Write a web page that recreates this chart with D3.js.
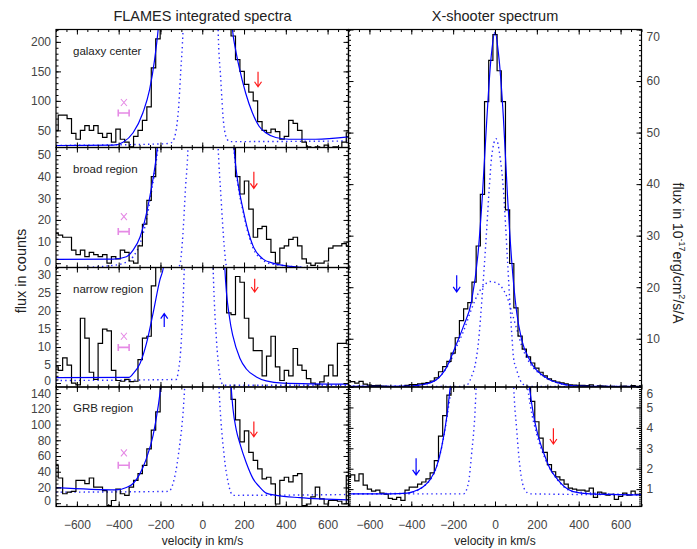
<!DOCTYPE html>
<html><head><meta charset="utf-8">
<script src="https://cdn.jsdelivr.net/npm/d3@7"></script>
<style>body{margin:0;background:#fff}svg{display:block}</style>
</head><body><div id="chart"></div>
<script>
// ---------------- DATA ----------------
// FLAMES spectra: 67 equally spaced velocity bins from -700 to 700 km/s
const flamesVelocity = d3.range(67).map(i => -700 + i * 1400 / 66);
const galaxyCenterFlux = [50,76,76,70,45,35,50,58,50,58,45,38,45,30,52,35,30,22,40,50,67,90,156,205,300,500,800,1200,1600,2000,2400,2600,2700,2700,2600,2400,2000,1500,1000,500,210,170,150,128,115,100,65,50,46,52,48,35,40,67,62,50,30,22,15,22,18,25,20,22,20,30,46];
const broadRegionFlux = [14,13,12,12,6,4,6,3,5,4,3,4,0,3,2,6,5,1,0,8,18,29,40,55,80,120,160,220,300,380,450,500,520,520,500,450,380,300,200,120,55,40,32,38,25,12,16,17,11,5,0,7,8,11,12,8,2,0,-1,0,0,1,7,8,8,9,8];
const narrowRegionFlux = [4.5,3.5,7,5,0,-0.5,18,12.5,3,1,11,15,14.5,3.5,0.7,0.5,1,0.4,0.5,6.5,12.5,13,27,33,60,100,150,200,250,300,320,330,330,320,300,250,200,120,50,19.5,19,29.6,28,18,12.5,9,9,2,7.5,13,4.5,0.7,3.5,2,9.6,5,3.5,1.2,0,-0.5,0.3,2,5,2,11,11,12];
const grbRegionFlux = [48,32,12,14,15,29,29,25,32,20.5,20.5,16,-3,3.4,18,12,10,20.5,29,37.6,48,69,93,116,170,250,350,500,650,800,900,950,950,900,800,650,500,350,250,180,132,106,78,92,64.7,54.4,43.7,31,33,24.6,-1,29,33,27,35,37.6,-3,-1,8,20.5,5.5,-1,3.4,3.4,2.5,-1,35];

// fitted model (solid) and components (dotted): [velocity, flux]
const galaxyCenterFit = [[-700,24.4],[-425,25],[-379,30],[-331,46],[-284,80],[-252,119],[-228,170],[-211,221],[-190,320],[0,3000],[145,220],[160,186],[176,158],[208,113],[240,80],[272,57],[304,46],[352,38],[415,35],[542,35],[700,39]];
const galaxyCenterNarrow = [[-700,24.5],[-206,27],[-156,28],[-140,32],[-115,80],[-103,150],[-92,221],[-70,600],[0,3000],[60,600],[76,221],[88,140],[103,60],[119,35],[132,31],[700,32]];
const broadRegionFit = [[-700,1.8],[-425,1.9],[-363,3],[-331,6],[-298,12],[-267,23],[-243,35],[-219,50],[-195,75],[0,800],[155,50],[171,37],[195,25],[219,15],[243,8],[290,2],[338,0],[420,-1.5],[700,-3]];
const broadRegionNarrow = [[-700,-3],[-125,-2.5],[-108,-1],[-95,10],[-80,35],[-68,54],[-40,200],[0,500],[40,200],[76,54],[90,30],[105,8],[115,-1],[130,-2.5],[700,-3]];
const broadRegionBroad = [[-700,-2.5],[-425,-1],[-363,0.5],[-331,3],[-298,9],[-267,20],[-243,33],[-219,48],[-195,70],[0,700],[155,49],[171,36],[195,24],[219,14],[243,7],[290,1.5],[338,-0.5],[700,-3]];
const narrowRegionFit = [[-700,1.5],[-350,1.6],[-331,2.6],[-298,5.4],[-267,11],[-235,19.5],[-203,28.6],[-186,32.1],[-170,40],[0,300],[100,45],[108,32.1],[131,18],[147,13],[180,6.9],[211,3.9],[259,1.7],[306,0.6],[386,0],[700,-0.3]];
const narrowRegionNarrow = [[-700,0.7],[-125,1],[-115,3],[-100,12],[-86,32.1],[-60,100],[-15,300],[30,100],[52,32.1],[68,12],[82,3],[93,0],[110,-0.6],[700,-0.6]];
const grbRegionFit = [[-700,19.8],[-410,17],[-363,20],[-331,25],[-298,37.6],[-267,57],[-235,86.6],[-211,123],[-200,144.7],[-190,170],[0,1500],[139,145],[147,120],[163,93],[180,76],[211,51],[243,31.2],[275,20.5],[306,12.8],[354,10],[466,7],[700,4.3]];
const grbRegionNarrow = [[-700,14],[-161,15],[-140,25],[-115,60],[-84,148],[-50,400],[0,800],[50,400],[80,148],[105,60],[125,25],[147,10],[700,11]];

// X-shooter spectrum: 71 bins, 20 km/s apart
const xshooterVelocity = d3.range(71).map(i => -700 + i * 20);
const xshooterFlux = [1.6,1.7,1.4,1.75,1.2,1.0,0.9,0.95,0.8,0.75,0.55,0.5,0.6,0.45,0.95,1.1,1.1,1.25,1.35,1.5,1.8,2.4,3.6,4.6,5.6,7.2,10.2,13.5,15.8,17.0,21,28,38,56,64,69,62,56,35,24.6,16,10.5,8,6.5,5.3,4.3,3.5,2.8,2.2,1.85,1.6,1.45,1.25,1.05,1.0,0.95,0.95,0.9,1.05,0.6,0.85,0.8,0.7,0.75,0.5,0.65,0.8,0.7,0.9,0.75,0.7];
const xshooterFit = [[-700,0.77],[-500,0.77],[-420,0.8],[-390,0.88],[-343,1.12],[-311,1.45],[-279,2.1],[-255,3.06],[-231,4.5],[-215,5.9],[-183,9.1],[-150,12.5],[-112,17.3],[-80,27],[-60,38],[-40,52],[-20,64],[0,69.5],[20,64],[40,53],[60,37.5],[80,25],[104,15],[127,9.9],[167,5.8],[183,4.7],[199,3.9],[215,3.3],[239,2.6],[263,2.0],[295,1.53],[342,1.04],[374,0.88],[454,0.77],[700,0.72]];
const xshooterNarrow = [[-700,0.77],[-150,0.77],[-127,1.3],[-112,2.7],[-96,4.7],[-80,9],[-60,19],[-40,31],[-27,39.5],[-16,45.3],[5,48.8],[24,45.3],[40,39],[60,25],[80,11],[88,6.5],[103,4],[119,2.1],[143,0.96],[167,0.77],[700,0.72]];
const xshooterBroad = [[-700,0.77],[-420,0.8],[-343,1.12],[-279,2.1],[-231,4.4],[-200,6.8],[-183,8.5],[-150,11.5],[-112,15.8],[-80,18.8],[-56,20.2],[-24,21.1],[10,20.8],[40,19.5],[60,17.8],[80,15.2],[103,12],[127,8.7],[167,5.2],[199,3.7],[239,2.5],[295,1.5],[374,0.88],[700,0.72]];

// annotations
const panelNames = ["galaxy center","broad region","narrow region","GRB region"];
const redArrows = [[267,149.5,124],[247,42.3,34.6],[251,29,25.3],[247,103.7,84.5]]; // [v, tail, head]
const magentaMarks = [[-375,-402,-350,97.3,79.5],[-375,-402,-350,21.5,14.6],[-375,-402,-350,13,9.9],[-375,-402,-350,64,48.3]]; // [v, lo, hi, cross, bar]
const narrowBlueArrow = [-182,15.6,19.3];
const xsTopBlueArrow = [-183,22.3,19.1];
const xsBottomBlueArrow = [-377,2.51,1.70];
const xsBottomRedArrow = [279,3.98,3.21];

const xTicksMajor = [-600,-400,-200,0,200,400,600];
const xTicksMinor = d3.range(-700,701,50);

// ---------------- DRAWING ----------------
const W = 697, H = 549;
const FONT = '"Liberation Sans", Arial, sans-serif';
const svg = d3.select('#chart').append('svg').attr('width', W).attr('height', H);
const BLUE = '#0000ff', DOTBLUE = '#2a2aff', RED = '#ff1a1a', MAG = '#e58ae5';

let clipId = 0;
function drawPanel(o) {
  const x = d3.scaleLinear().domain([-700, 700]).range([o.x0, o.x1]);
  const y = d3.scaleLinear().domain(o.yDomain).range([o.y1, o.y0]);
  const id = 'clip' + (clipId++);
  svg.append('clipPath').attr('id', id).append('rect')
    .attr('x', o.x0).attr('y', o.y0).attr('width', o.x1 - o.x0).attr('height', o.y1 - o.y0);
  const c = svg.append('g').attr('clip-path', `url(#${id})`);
  const smooth = d3.line().x(d => x(d[0])).y(d => y(d[1])).curve(d3.curveMonotoneX);
  (o.dotted || []).forEach(arr => c.append('path').attr('d', smooth(arr)).attr('fill', 'none')
    .attr('stroke', DOTBLUE).attr('stroke-width', 1.4).attr('stroke-dasharray', '1.4 3.2'));
  const step = d3.line().x((d, i) => x(o.vel[i])).y(d => y(d)).curve(d3.curveStep);
  c.append('path').attr('d', step(o.flux)).attr('fill', 'none').attr('stroke', '#000').attr('stroke-width', 1.2);
  c.append('path').attr('d', smooth(o.fit)).attr('fill', 'none').attr('stroke', BLUE).attr('stroke-width', 1.2);

  (o.arrows || []).forEach(a => {
    const ax = x(a.v), ty = y(a.tail), hy = y(a.head);
    const dir = hy > ty ? -1 : 1;
    c.append('path').attr('d', `M${ax},${ty}L${ax},${hy}M${ax-3.5},${hy+dir*5}L${ax},${hy}L${ax+3.5},${hy+dir*5}`)
      .attr('fill', 'none').attr('stroke', a.color).attr('stroke-width', 1.2);
  });
  if (o.mark) {
    const [v, lo, hi, cy, by] = o.mark;
    const mx = x(v), my = y(cy), b = y(by);
    c.append('path').attr('d', `M${mx-3},${my-3.5}L${mx+3},${my+3.5}M${mx+3},${my-3.5}L${mx-3},${my+3.5}`)
      .attr('stroke', MAG).attr('stroke-width', 1.1).attr('fill', 'none');
    c.append('path').attr('d', `M${x(lo)},${b}L${x(hi)},${b}M${x(lo)},${b-3.5}L${x(lo)},${b+3.5}M${x(hi)},${b-3.5}L${x(hi)},${b+3.5}`)
      .attr('stroke', MAG).attr('stroke-width', 1.6).attr('fill', 'none');
  }
  if (o.name) {
    svg.append('text').attr('x', o.x0 + 17).attr('y', o.y0 + 25).text(o.name)
      .attr('font-family', FONT).attr('font-size', 11.5).attr('fill', '#222');
  }

  const style = g => {
    g.select('.domain').remove();
    g.selectAll('line').attr('stroke', '#000');
    g.selectAll('text').attr('font-family', FONT).attr('font-size', 12).attr('fill', '#444');
  };
  const mk = (axisFn, scale, vals, size, fmt, pad) => axisFn(scale).tickValues(vals).tickSize(-size).tickPadding(pad || 3)
      .tickFormat(fmt ? d3.format('d') : '');
  // keep edge labels inside their own panel band
  const clampY = d => {
    const p = y(d);
    return Math.min(Math.max(p, o.y0 + 7), o.y1 - 6) - p;
  };
  const labLeft = o.labelSide === 'left';
  svg.append('g').attr('transform', `translate(${o.x0},0)`).call(mk(d3.axisLeft, y, o.yMajor, 5, labLeft, 5)).call(style)
    .selectAll('text').attr('y', clampY);
  svg.append('g').attr('transform', `translate(${o.x0},0)`).call(mk(d3.axisLeft, y, o.yMinor, 2.5, false)).call(style);
  svg.append('g').attr('transform', `translate(${o.x1},0)`).call(mk(d3.axisRight, y, o.yMajor, 5, !labLeft, 5)).call(style)
    .selectAll('text').attr('y', clampY);
  svg.append('g').attr('transform', `translate(${o.x1},0)`).call(mk(d3.axisRight, y, o.yMinor, 2.5, false)).call(style);
  svg.append('g').attr('transform', `translate(0,${o.y1})`).call(mk(d3.axisBottom, x, xTicksMajor, 5, o.xLabels, 14)).call(style);
  svg.append('g').attr('transform', `translate(0,${o.y1})`).call(mk(d3.axisBottom, x, xTicksMinor, 2.5, false)).call(style);
  svg.append('g').attr('transform', `translate(0,${o.y0})`).call(mk(d3.axisTop, x, xTicksMajor, 5, false)).call(style);
  svg.append('g').attr('transform', `translate(0,${o.y0})`).call(mk(d3.axisTop, x, xTicksMinor, 2.5, false)).call(style);

  svg.append('rect').attr('x', o.x0).attr('y', o.y0).attr('width', o.x1 - o.x0).attr('height', o.y1 - o.y0)
    .attr('fill', 'none').attr('stroke', '#000').attr('stroke-width', 1.2);
}

const LX = [56, 348.5], RX = [348.5, 641.5];
const rows = [[29.5, 147.5], [147.5, 267.5], [267.5, 387], [387, 506.5]];
const flamesSets = [
  {flux: galaxyCenterFlux, fit: galaxyCenterFit, dotted: [galaxyCenterNarrow], yDomain: [21, 221], yMajor: [50,100,150,200], yMinor: d3.range(30, 221, 10)},
  {flux: broadRegionFlux, fit: broadRegionFit, dotted: [broadRegionNarrow, broadRegionBroad], yDomain: [-2, 53.5], yMajor: d3.range(0, 51, 10), yMinor: d3.range(0, 54, 2)},
  {flux: narrowRegionFlux, fit: narrowRegionFit, dotted: [narrowRegionNarrow], yDomain: [-1.1, 32.1], yMajor: d3.range(0, 31, 5), yMinor: d3.range(0, 33, 1)},
  {flux: grbRegionFlux, fit: grbRegionFit, dotted: [grbRegionNarrow], yDomain: [-4.2, 147.7], yMajor: d3.range(0, 141, 20), yMinor: d3.range(0, 148, 5)}
];
flamesSets.forEach((s, i) => {
  const arrows = [{v: redArrows[i][0], tail: redArrows[i][1], head: redArrows[i][2], color: RED}];
  if (i === 2) arrows.push({v: narrowBlueArrow[0], tail: narrowBlueArrow[1], head: narrowBlueArrow[2], color: BLUE});
  drawPanel(Object.assign({x0: LX[0], x1: LX[1], y0: rows[i][0], y1: rows[i][1], vel: flamesVelocity,
    labelSide: 'left', xLabels: i === 3, name: panelNames[i], mark: magentaMarks[i], arrows}, s));
});
drawPanel({x0: RX[0], x1: RX[1], y0: 29.5, y1: 387, vel: xshooterVelocity, flux: xshooterFlux, fit: xshooterFit,
  dotted: [xshooterNarrow, xshooterBroad], yDomain: [0.64, 70], yMajor: d3.range(10, 71, 10), yMinor: d3.range(1, 71, 1),
  labelSide: 'right', xLabels: false,
  arrows: [{v: xsTopBlueArrow[0], tail: xsTopBlueArrow[1], head: xsTopBlueArrow[2], color: BLUE}]});
drawPanel({x0: RX[0], x1: RX[1], y0: 387, y1: 506.5, vel: xshooterVelocity, flux: xshooterFlux, fit: xshooterFit,
  dotted: [xshooterNarrow, xshooterBroad], yDomain: [0.15, 6], yMajor: [1,2,3,4,5,6], yMinor: d3.range(2, 61, 1).map(d => d / 10),
  labelSide: 'right', xLabels: true,
  arrows: [{v: xsBottomBlueArrow[0], tail: xsBottomBlueArrow[1], head: xsBottomBlueArrow[2], color: BLUE},
           {v: xsBottomRedArrow[0], tail: xsBottomRedArrow[1], head: xsBottomRedArrow[2], color: RED}]});

const txt = (x, y, s, size, anchor) => svg.append('text').attr('x', x).attr('y', y).text(s)
  .attr('font-family', FONT).attr('font-size', size).attr('fill', '#222').attr('text-anchor', anchor || 'middle');
txt(202.5, 20.5, 'FLAMES integrated spectra', 14.5);
txt(495, 20.5, 'X-shooter spectrum', 14.5);
txt(202.5, 545, 'velocity in km/s', 12);
txt(495, 545, 'velocity in km/s', 12);
svg.append('text').attr('transform', 'translate(26,271) rotate(-90)').attr('text-anchor', 'middle')
  .attr('font-family', FONT).attr('font-size', 14.5).attr('fill', '#222').text('flux in counts');
const rl = svg.append('text').attr('transform', 'translate(673,253) rotate(90)').attr('text-anchor', 'middle')
  .attr('font-family', FONT).attr('font-size', 14).attr('fill', '#222');
rl.append('tspan').text('flux in 10');
rl.append('tspan').attr('font-size', 9).attr('dy', -6).text('-17');
rl.append('tspan').attr('dy', 6).text('erg/cm');
rl.append('tspan').attr('font-size', 9).attr('dy', -6).text('2');
rl.append('tspan').attr('dy', 6).text('/s/A');
</script></body></html>
